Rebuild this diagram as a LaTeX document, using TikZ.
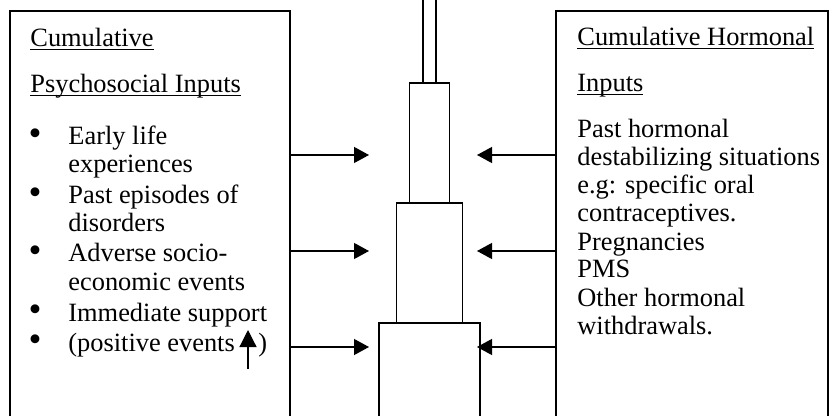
\documentclass[tikz,border=0pt]{standalone}
\usepackage{fontspec}
\setmainfont{Liberation Serif}
\usetikzlibrary{positioning,arrows.meta}

\begin{document}
\begin{tikzpicture}[x=0.5pt, y=-0.5pt,
inputbox/.style={rectangle, draw=black, line width=0.6pt, anchor=north west, minimum height=225pt, inner sep=0pt, outer sep=0pt},
towerblock/.style={rectangle, draw=black, line width=0.6pt, fill=white, minimum height=60pt, inner sep=0pt, outer sep=0pt},
txt/.style={anchor=base west, inner sep=0pt, font=\fontsize{13.2pt}{14pt}\selectfont},
dot/.style={anchor=center, inner sep=0pt, font=\fontsize{13.2pt}{14pt}\selectfont},
arr/.style={line width=0.6pt, -{Triangle[length=7.5pt, width=8pt]}},
]
\useasboundingbox (0,0) rectangle (838,416);

\node[inputbox, minimum width=140pt] (Psybox)  at (10,11)  {};
\node[inputbox, minimum width=136pt] (Hormbox) at (556,11) {};

% the tower in the middle
\node[towerblock, minimum width=50.5pt] (Base)  at (429.5,383) {};
\node[towerblock, minimum width=33pt]   (Mid)   [above=0pt of Base] {};
\node[towerblock, minimum width=20pt]   (Top)   [above=0pt of Mid]  {};
\node[towerblock, minimum width=6.5pt, minimum height=50pt] (Stem) [above=0pt of Top] {};

% psychosocial side
\node[txt] (Psyhead1) at (30,47) {\underline{\smash{Cumulative}}};
\node[txt] (Psyhead2) at (30,93) {\underline{\smash{Psychosocial Inputs}}};
\foreach \t/\y [count=\i from 0] in {Early life/145, experiences/173, Past episodes of/204, disorders/232, Adverse socio-/262, economic events/290, Immediate support/321, {(positive events \hspace{8.5pt})}/351}
  \node[txt] (Psy\i) at (68,\y) {\t};
\foreach \y [count=\i] in {145,204,262,321,351}
  \node[dot] (Dot\i) at (35,\y-8) {\scalebox{1.4}{\textbullet}};

% hormonal side
\node[txt] (Hormhead1) at (577,46) {\underline{\smash{Cumulative Hormonal}}};
\node[txt] (Hormhead2) at (577,92) {\underline{\smash{Inputs}}};
\foreach \t [count=\i from 0] in {Past hormonal, destabilizing situations, e.g: specific oral, contraceptives., Pregnancies, PMS, Other hormonal, withdrawals.}
  \node[txt] (Horm\i) at (577,138+28*\i) {\t};

% arrows towards the tower
\coordinate (Left1)  at (369,155);
\coordinate (Left2)  at (369,251);
\coordinate (Left3)  at (369,347);
\coordinate (Right1) at (477,155);
\coordinate (Right2) at (477,251);
\coordinate (Right3) at (477,347);
\draw[arr] (Psybox.east |- Left1) -- (Left1);
\draw[arr] (Psybox.east |- Left2) -- (Left2);
\draw[arr] (Psybox.east |- Left3) -- (Left3);
\draw[arr] (Hormbox.west |- Right1) -- (Right1);
\draw[arr] (Hormbox.west |- Right2) -- (Right2);
\draw[arr] (Hormbox.west |- Right3) -- (Right3);

% small up arrow
\coordinate (Uptail) at (248,369);
\coordinate (Uptip)  at (248,330);
\draw[line width=0.6pt, -{Triangle[length=8.5pt, width=8.5pt]}] (Uptail) -- (Uptip);

\end{tikzpicture}
\end{document}
